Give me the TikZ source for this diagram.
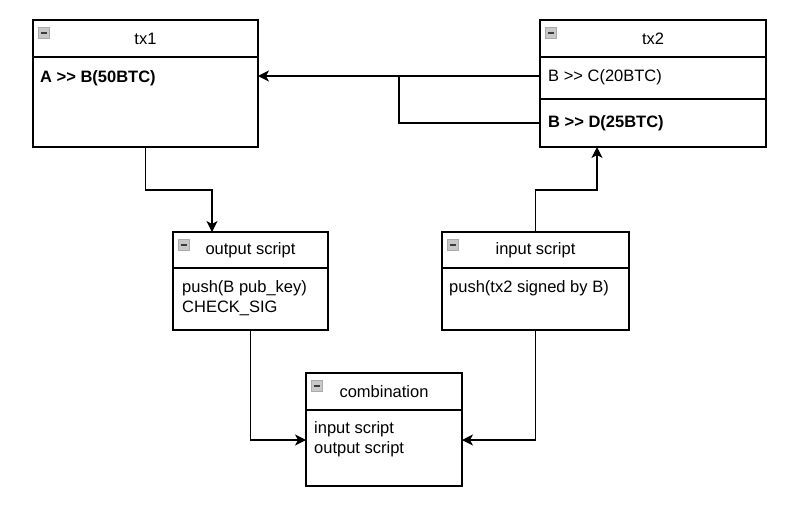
\documentclass[tikz,border=0pt]{standalone}
\usepackage{fontspec}
\setmainfont{Liberation Sans}[Ligatures=TeXOff]
\usetikzlibrary{positioning,arrows.meta}
\definecolor{iconfill}{RGB}{200,200,200}
\definecolor{iconedge}{RGB}{170,170,170}
\definecolor{iconbar}{RGB}{60,60,60}

\begin{document}
\begin{tikzpicture}[x=1pt,y=-1pt,
    box/.style={draw,line width=1.2pt,outer sep=0pt,inner sep=0pt,font=\fontsize{16.5}{20}\selectfont},
    txt/.style={anchor=west,inner sep=0pt,align=left,font=\fontsize{16.5}{20}\selectfont},
    wire/.style={line width=1.2pt},
    link/.style={wire,-{Stealth[length=11pt,width=11pt,inset=3pt]}}]
    \useasboundingbox[fill=white] (0,0) rectangle (790,509);

    \node[box,minimum width=225pt,minimum height=37pt] (tx1) at (145.5,38.5) {tx1};
    \node[box,minimum width=225pt,minimum height=90pt,below=0pt of tx1] (tx1body) {};
    \node[txt,font=\fontsize{16.5}{20}\selectfont\bfseries] (tx1out) at ([shift={(7,21)}]tx1body.north west) {A >> B(50BTC)};

    \node[box,minimum width=226pt,minimum height=37pt] (tx2) at (653,38.5) {tx2};
    \node[box,minimum width=226pt,minimum height=42pt,below=0pt of tx2] (tx2c) {};
    \node[box,minimum width=226pt,minimum height=48pt,below=0pt of tx2c] (tx2d) {};
    \node[txt] (tx2ctext) at ([shift={(8,-1)}]tx2c.west) {B >> C(20BTC)};
    \node[txt,font=\fontsize{16.5}{20}\selectfont\bfseries] (tx2dtext) at ([shift={(8,0)}]tx2d.west) {B >> D(25BTC)};

    \node[box,minimum width=155pt,minimum height=36pt] (outs) at (250.5,250) {output script};
    \node[box,minimum width=155pt,minimum height=62pt,below=0pt of outs] (outsbody) {};
    \node[txt] (outstext) at ([shift={(9,30)}]outsbody.north west) {push(B pub\_key)\\CHECK\_SIG};

    \node[box,minimum width=187pt,minimum height=36pt] (ins) at (535.5,250) {input script};
    \node[box,minimum width=187pt,minimum height=62pt,below=0pt of ins] (insbody) {};
    \node[txt] (instext) at ([shift={(7,20)}]insbody.north west) {push(tx2 signed by B)};

    \node[box,minimum width=156pt,minimum height=37pt] (comb) at (384,391.5) {combination};
    \node[box,minimum width=156pt,minimum height=76pt,below=0pt of comb] (combbody) {};
    \node[txt] (combtext) at ([shift={(8,29)}]combbody.north west) {input script\\output script};

    % collapse icons
    \foreach \n in {tx1,tx2,outs,ins,comb} {
        \draw[fill=iconfill,draw=iconedge,line width=1pt] ([shift={(5,7)}]\n.north west) rectangle ++(11,11);
        \draw[iconbar,line width=2pt] ([shift={(7.5,12.5)}]\n.north west) -- ++(6,0);
    }

    \draw[link] (tx2c.west) ++(0,-2) -- ++(-282,0);
    \draw[wire] (tx2d.west) -- ++(-141,0) |- ([yshift=2pt]tx2c.west);
    \draw[link] (tx1body.south) -- ++(0,43) -| ([xshift=-38.5pt]outs.north);
    \draw[link] (ins.north) -- ++(0,-42) -| ([xshift=-56pt]tx2d.south);
    \draw[link] (outsbody.south) |- ([yshift=8pt]combbody.west);
    \draw[link] (insbody.south) |- ([yshift=8pt]combbody.east);
\end{tikzpicture}
\end{document}
